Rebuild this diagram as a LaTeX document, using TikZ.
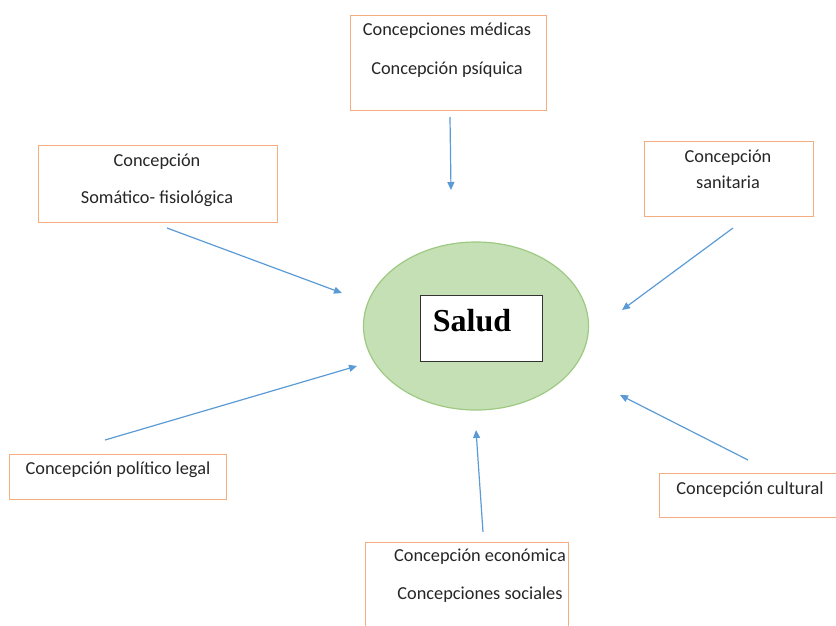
\documentclass[tikz,border=0pt]{standalone}
\usepackage{fontspec}
\setmainfont{Carlito}
\newfontfamily\serifbold{Liberation Serif}
\usetikzlibrary{arrows.meta,shapes.geometric}
\definecolor{boxorange}{HTML}{F4AD80}
\definecolor{ellfill}{HTML}{C5E0B4}
\definecolor{ellline}{HTML}{9DC982}
\definecolor{arrblue}{HTML}{5B9BD5}
\tikzset{
  obox/.style={draw=boxorange, line width=1.3pt, fill=white, rectangle, inner sep=0pt},
  txt/.style={font=\fontsize{18.3}{20}\selectfont, text=black!85, inner sep=0pt},
  arr/.style={draw=arrblue, line width=1.2pt, -{Triangle[width=7pt,length=8pt]}},
}
\begin{document}
\begin{tikzpicture}[x=1pt,y=-1pt]
\useasboundingbox (0,0) rectangle (836,625);
\clip (0,0) rectangle (836,625);
% boxes
\node[obox, minimum width=196pt, minimum height=95pt, anchor=north west] (btop) at (350,15) {};
\node[obox, minimum width=239pt, minimum height=77pt, anchor=north west] (bsom) at (38,145) {};
\node[obox, minimum width=169pt, minimum height=75pt, anchor=north west] (bsan) at (644,141) {};
\node[obox, minimum width=217pt, minimum height=45pt, anchor=north west] (bpol) at (9,454) {};
\node[obox, minimum width=182pt, minimum height=44pt, anchor=north west] (bcul) at (659,473) {};
\node[obox, minimum width=203pt, minimum height=100pt, anchor=north west] (beco) at (365,542) {};
% texts
\node[txt] (t1) at (447,31) {Concepciones médicas};
\node[txt] (t2) at (447,70) {Concepción psíquica};
\node[txt] (t3) at (157,162) {Concepción};
\node[txt] (t4) at (157,199) {Somático- fisiológica};
\node[txt] (t5) at (728,158) {Concepción};
\node[txt] (t6) at (728,182) {sanitaria};
\node[txt] (t7) at (118,470) {Concepción político legal};
\node[txt] (t8) at (750,490) {Concepción cultural};
\node[txt] (t9) at (480,557) {Concepción económica};
\node[txt] (t10) at (480,595) {Concepciones sociales};
% center
\node[draw=ellline, fill=ellfill, line width=1.2pt, ellipse, minimum width=225pt, minimum height=168pt, inner sep=0pt] (ell) at (476,326) {};
\node[draw=black!80, fill=white, line width=1.2pt, rectangle, minimum width=122pt, minimum height=66pt, anchor=north west, inner sep=0pt] (sbox) at (420,295) {};
\node[inner sep=0pt, font=\serifbold\bfseries\fontsize{32}{36}\selectfont] (salud) at (472,321) {Salud};
% arrow coordinates
\coordinate (s1) at (450,117); \coordinate (e1) at (451,190);
\coordinate (s2) at (167,228); \coordinate (e2) at (342,293);
\coordinate (s3) at (733,228); \coordinate (e3) at (622,310);
\coordinate (s4) at (105,440); \coordinate (e4) at (357,366);
\coordinate (s5) at (748,460); \coordinate (e5) at (620,395);
\coordinate (s6) at (483,532); \coordinate (e6) at (476,430);
\draw[arr] (s1) -- (e1);
\draw[arr] (s2) -- (e2);
\draw[arr] (s3) -- (e3);
\draw[arr] (s4) -- (e4);
\draw[arr] (s5) -- (e5);
\draw[arr] (s6) -- (e6);
\end{tikzpicture}
\end{document}
